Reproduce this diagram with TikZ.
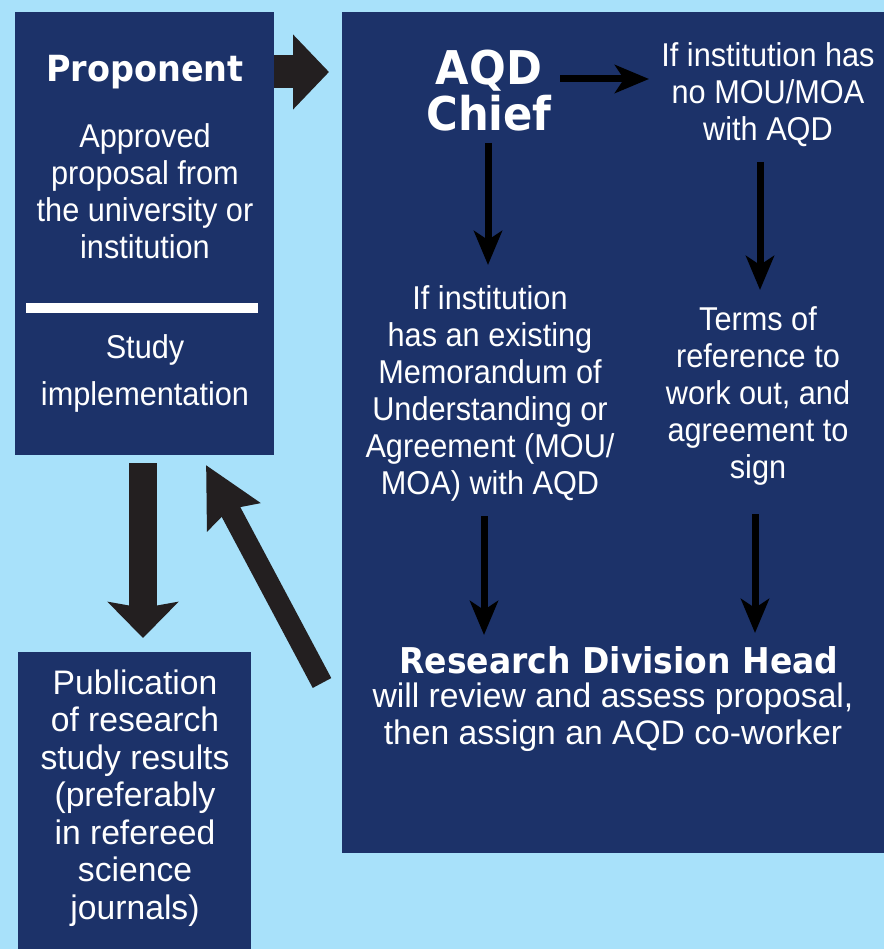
\documentclass[tikz,border=0pt]{standalone}
\usepackage{fontspec}
\newfontfamily\narrowf{Liberation Sans}[FakeStretch=0.93]
\newfontfamily\widef{Liberation Sans}[FakeStretch=0.99]
\newfontfamily\heavyf{DejaVu Sans}[FakeStretch=0.93]
\usetikzlibrary{arrows.meta}
\definecolor{bgblue}{RGB}{168,225,250}
\definecolor{navy}{RGB}{28,50,105}
\definecolor{arrowdark}{RGB}{35,31,32}
\tikzset{
  panel/.style={fill=navy, draw=none},
  body/.style={text=white, align=center, inner sep=0pt, font=\narrowf\fontsize{33}{37}\selectfont},
  widebody/.style={text=white, align=center, inner sep=0pt, font=\widef\fontsize{34}{37.5}\selectfont},
  head/.style={text=white, align=center, inner sep=0pt, font=\heavyf\bfseries\fontsize{36}{40}\selectfont},
  thinarrow/.style={draw=black, line width=7pt, -{Stealth[length=34pt, width=28pt, inset=9pt]}},
  bigarrow/.style={draw=arrowdark, line width=28pt, -{Stealth[length=36pt, width=70pt, inset=6pt]}}
}
\begin{document}
\begin{tikzpicture}[x=1pt,y=-1pt]
\fill[bgblue] (0,0) rectangle (884,949);
\useasboundingbox (0,0) rectangle (884,949);
% panels
\fill[panel] (15,12) rectangle (274,455);
\fill[panel] (342,12) rectangle (884,853);
\fill[panel] (18,652) rectangle (251,949);
\fill[white] (26,303) rectangle (258,313);
% left panel texts
\node[head] (prop) at (145,72) {Proponent};
\node[body] (approved) at (145,191) {Approved\\proposal from\\the university or\\institution};
\node[body, font=\narrowf\fontsize{33}{47}\selectfont] (study) at (145,373) {Study\\implementation};
% publication
\node[widebody] (pub) at (135,798) {Publication\\of research\\study results\\(preferably\\in refereed\\science\\journals)};
% right panel texts
\node[head, font=\heavyf\bfseries\fontsize{46.5}{46}\selectfont] (chief) at (489,91) {AQD\\Chief};
\node[body] (nomou) at (768,95) {If institution has\\no MOU/MOA\\with AQD};
\node[body] (hasmou) at (490,393) {If institution\\has an existing\\Memorandum of\\Understanding or\\Agreement (MOU/\\MOA) with AQD};
\node[body] (terms) at (758,396) {Terms of\\reference to\\work out, and\\agreement to\\sign};
\node[head, font=\heavyf\bfseries\fontsize{35.5}{40}\selectfont] (rdh) at (619,660) {Research Division Head};
\node[widebody] (review) at (613,717) {will review and assess proposal,\\then assign an AQD co-worker};
% coordinates for connectors
\coordinate (c1s) at (274,72);  \coordinate (c1e) at (329,72);
\coordinate (c2s) at (143,463); \coordinate (c2e) at (143,638);
\coordinate (c3s) at (322,683); \coordinate (c3e) at (206,465);
\coordinate (c4s) at (560,79);  \coordinate (c4e) at (649,79);
\coordinate (c5s) at (488,143); \coordinate (c5e) at (488,265);
\coordinate (c6s) at (760,162); \coordinate (c6e) at (760,290);
\coordinate (c7s) at (484,516); \coordinate (c7e) at (484,635);
\coordinate (c8s) at (755,514); \coordinate (c8e) at (755,633);
% big arrows
\draw[bigarrow, line width=33pt, -{Stealth[length=36pt, width=73pt, inset=0pt]}] (c1s) -- (c1e);
\draw[bigarrow] (c2s) -- (c2e);
\draw[bigarrow, line width=21pt, -{Stealth[length=58pt, width=58pt, inset=8pt]}] (c3s) -- (c3e);
% thin arrows
\draw[thinarrow] (c4s) -- (c4e);
\draw[thinarrow] (c5s) -- (c5e);
\draw[thinarrow] (c6s) -- (c6e);
\draw[thinarrow] (c7s) -- (c7e);
\draw[thinarrow] (c8s) -- (c8e);
\end{tikzpicture}
\end{document}
